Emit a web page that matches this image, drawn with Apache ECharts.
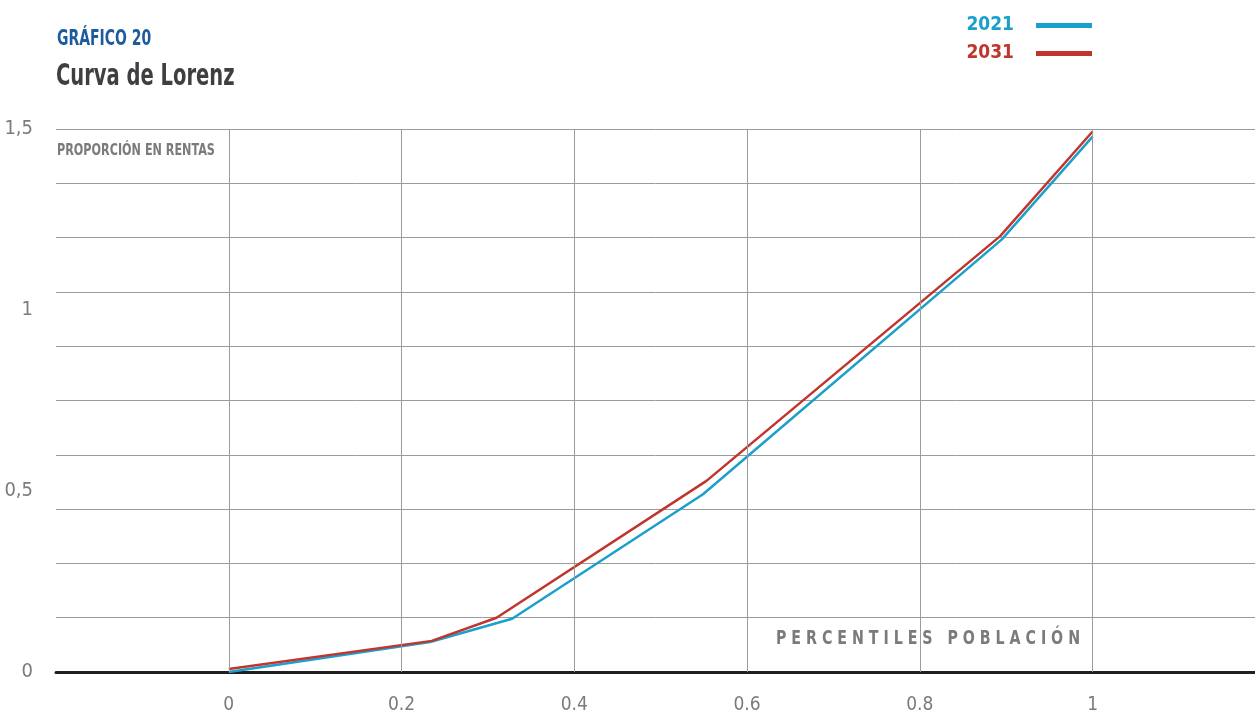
<!DOCTYPE html>
<html><head><meta charset="utf-8">
<script src="https://cdn.jsdelivr.net/npm/echarts@6/dist/echarts.min.js"></script>
<style>html,body{margin:0;padding:0;background:#fff}#c{width:1255px;height:715px}</style>
</head><body><div id="c"></div>
<script>
const FONT = '"DejaVu Sans Condensed","Liberation Sans Narrow",Roboto,sans-serif';
const seriesNames = ['2021', '2031'];
const x2021 = [0, 0.233, 0.328, 0.549, 0.895, 1];
const y2021 = [0, 0.083, 0.147, 0.491, 1.195, 1.479];
const x2031 = [0, 0.235, 0.310, 0.553, 0.893, 1];
const y2031 = [0.008, 0.086, 0.150, 0.528, 1.204, 1.493];
const xTicks = [0, 0.2, 0.4, 0.6, 0.8, 1];
const yLabelTicks = [0, 0.5, 1, 1.5];
const yGridStep = 0.15;
const titleTop = 'GRÁFICO 20';
const titleMain = 'Curva de Lorenz';
const yName = 'PROPORCIÓN EN RENTAS';
const xName = 'PERCENTILES POBLACIÓN';

const pair = (xs, ys) => xs.map((x, i) => [x, ys[i]]);
const GRID = '#9b9b9b';
const LABEL = '#7b7b7b';
const spaced = s => s.split('').join(' ');

const chart = echarts.init(document.getElementById('c'), null, {renderer: 'canvas'});
chart.setOption({
  animation: false,
  backgroundColor: '#fff',
  legend: {
    data: seriesNames,
    orient: 'vertical',
    right: 163, top: 16,
    align: 'right',
    icon: 'rect',
    itemWidth: 56, itemHeight: 5, itemGap: 9,
    padding: 0,
    textStyle: {color: 'inherit', fontSize: 19, fontWeight: 'bold', fontFamily: FONT, padding: [0, 17, 0, 0]}
  },
  grid: {left: 56, right: 0, top: 129, bottom: 41, containLabel: false},
  xAxis: {
    type: 'value', min: -0.2, max: 1.188, interval: 0.2,
    axisLine: {show: true, lineStyle: {color: '#231f20', width: 3}},
    axisTick: {show: false},
    splitLine: {show: false},
    axisLabel: {
      margin: 24, color: LABEL, fontSize: 19, fontFamily: FONT,
      showMaxLabel: false,
      formatter: v => {
        const r = Math.round(v * 100) / 100;
        return xTicks.includes(r) ? String(r) : '';
      }
    }
  },
  yAxis: [
    {
      type: 'value', min: 0, max: 1.5, interval: yGridStep,
      axisLabel: {show: false}, axisLine: {show: false}, axisTick: {show: false},
      splitLine: {show: true, lineStyle: {color: GRID, width: 1}}
    },
    {
      type: 'value', position: 'left', min: 0, max: 1.5, interval: 0.5,
      axisLine: {show: false}, axisTick: {show: false}, splitLine: {show: false},
      axisLabel: {
        margin: 23, color: LABEL, fontSize: 20, fontFamily: FONT,
        formatter: v => {
          const r = Math.round(v * 100) / 100;
          return yLabelTicks.includes(r) ? String(r).replace('.', ',') : '';
        }
      }
    }
  ],
  graphic: [
    {type: 'text', x: 57, y: 40, scaleX: 0.74,
     style: {text: titleTop, fill: '#1d5c9c', font: 'bold 21px ' + FONT, verticalAlign: 'middle'}},
    {type: 'text', x: 56, y: 77, scaleX: 0.70,
     style: {text: titleMain, fill: '#3d3f41', font: 'bold 31px ' + FONT, verticalAlign: 'middle'}},
    {type: 'text', x: 57, y: 151, scaleX: 0.83,
     style: {text: yName, fill: LABEL, font: 'bold 15px ' + FONT, verticalAlign: 'middle'}},
    {type: 'text', x: 776, y: 639, scaleX: 0.79,
     style: {text: spaced(xName), fill: LABEL, font: 'bold 20px ' + FONT, verticalAlign: 'middle'}}
  ],
  series: [
    {
      name: '', type: 'line', data: [], z: 1, silent: true,
      markLine: {
        silent: true, symbol: 'none', label: {show: false},
        lineStyle: {color: GRID, width: 1, type: 'solid'},
        data: xTicks.map(v => ({xAxis: v}))
      }
    },
    {name: seriesNames[0], type: 'line', data: pair(x2021, y2021), showSymbol: false, z: 3,
     color: '#1b9fcb', lineStyle: {width: 2.5, color: '#1b9fcb'}},
    {name: seriesNames[1], type: 'line', data: pair(x2031, y2031), showSymbol: false, z: 4,
     color: '#c1352f', lineStyle: {width: 2.5, color: '#c1352f'}}
  ]
});
</script></body></html>
